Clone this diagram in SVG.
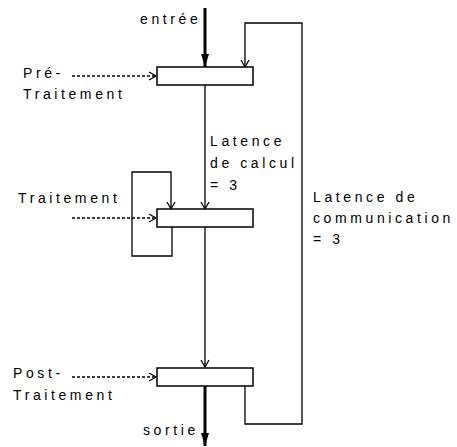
<svg xmlns="http://www.w3.org/2000/svg" width="457" height="447" viewBox="0 0 457 447">
<defs>
<style>
text{font-family:"Liberation Sans",Arial,sans-serif;font-size:14px;letter-spacing:3.6px;fill:#000}
.box{fill:#fff;stroke:#000;stroke-width:1.5}
.ln{fill:none;stroke:#000;stroke-width:1.3}
.dash{fill:none;stroke:#000;stroke-width:1.3;stroke-dasharray:3,2}
.thick{fill:none;stroke:#000;stroke-width:3}
</style>
<marker id="open" markerWidth="10" markerHeight="10" refX="8" refY="5" orient="auto" markerUnits="userSpaceOnUse">
<path d="M1,1 L8,5 L1,9" fill="none" stroke="#000" stroke-width="1.3"/>
</marker>
<marker id="fill" markerWidth="14" markerHeight="10" refX="13" refY="5" orient="auto" markerUnits="userSpaceOnUse">
<path d="M0,1 L13,5 L0,9 Z" fill="#000"/>
</marker>
</defs>
<g id="connectors">
<line class="thick" x1="205" y1="8" x2="205" y2="67" marker-end="url(#fill)"/>
<line class="thick" x1="205" y1="386" x2="205" y2="446" marker-end="url(#fill)"/>
<line class="ln" x1="205" y1="85" x2="205" y2="209" marker-end="url(#open)"/>
<line class="ln" x1="205" y1="227" x2="205" y2="367" marker-end="url(#open)"/>
<polyline class="ln" points="245,386 245,424 302,424 302,23 245,23 245,67" marker-end="url(#open)"/>
<polyline class="ln" points="172,227 172,256 132,256 132,172 171,172 171,209" marker-end="url(#open)"/>
<line class="dash" x1="72" y1="76" x2="156" y2="76" marker-end="url(#open)"/>
<line class="dash" x1="72" y1="218" x2="156" y2="218" marker-end="url(#open)"/>
<line class="dash" x1="72" y1="377" x2="156" y2="377" marker-end="url(#open)"/>
</g>
<g id="pre"><rect class="box" x="157" y="67" width="96" height="18"/></g>
<g id="traitement"><rect class="box" x="157" y="209" width="96" height="18"/></g>
<g id="post"><rect class="box" x="157" y="368" width="96" height="18"/></g>
<g id="labels">
<text x="140" y="24">entrée</text>
<text x="23" y="78">Pré-</text>
<text x="23" y="99">Traitement</text>
<text x="210" y="146">Latence</text>
<text x="210" y="168">de calcul</text>
<text x="210" y="190">= 3</text>
<text x="18" y="203">Traitement</text>
<text x="313" y="202">Latence de</text>
<text x="313" y="223">communication</text>
<text x="313" y="244">= 3</text>
<text x="13" y="378">Post-</text>
<text x="13" y="400">Traitement</text>
<text x="143" y="435">sortie</text>
</g>
</svg>
